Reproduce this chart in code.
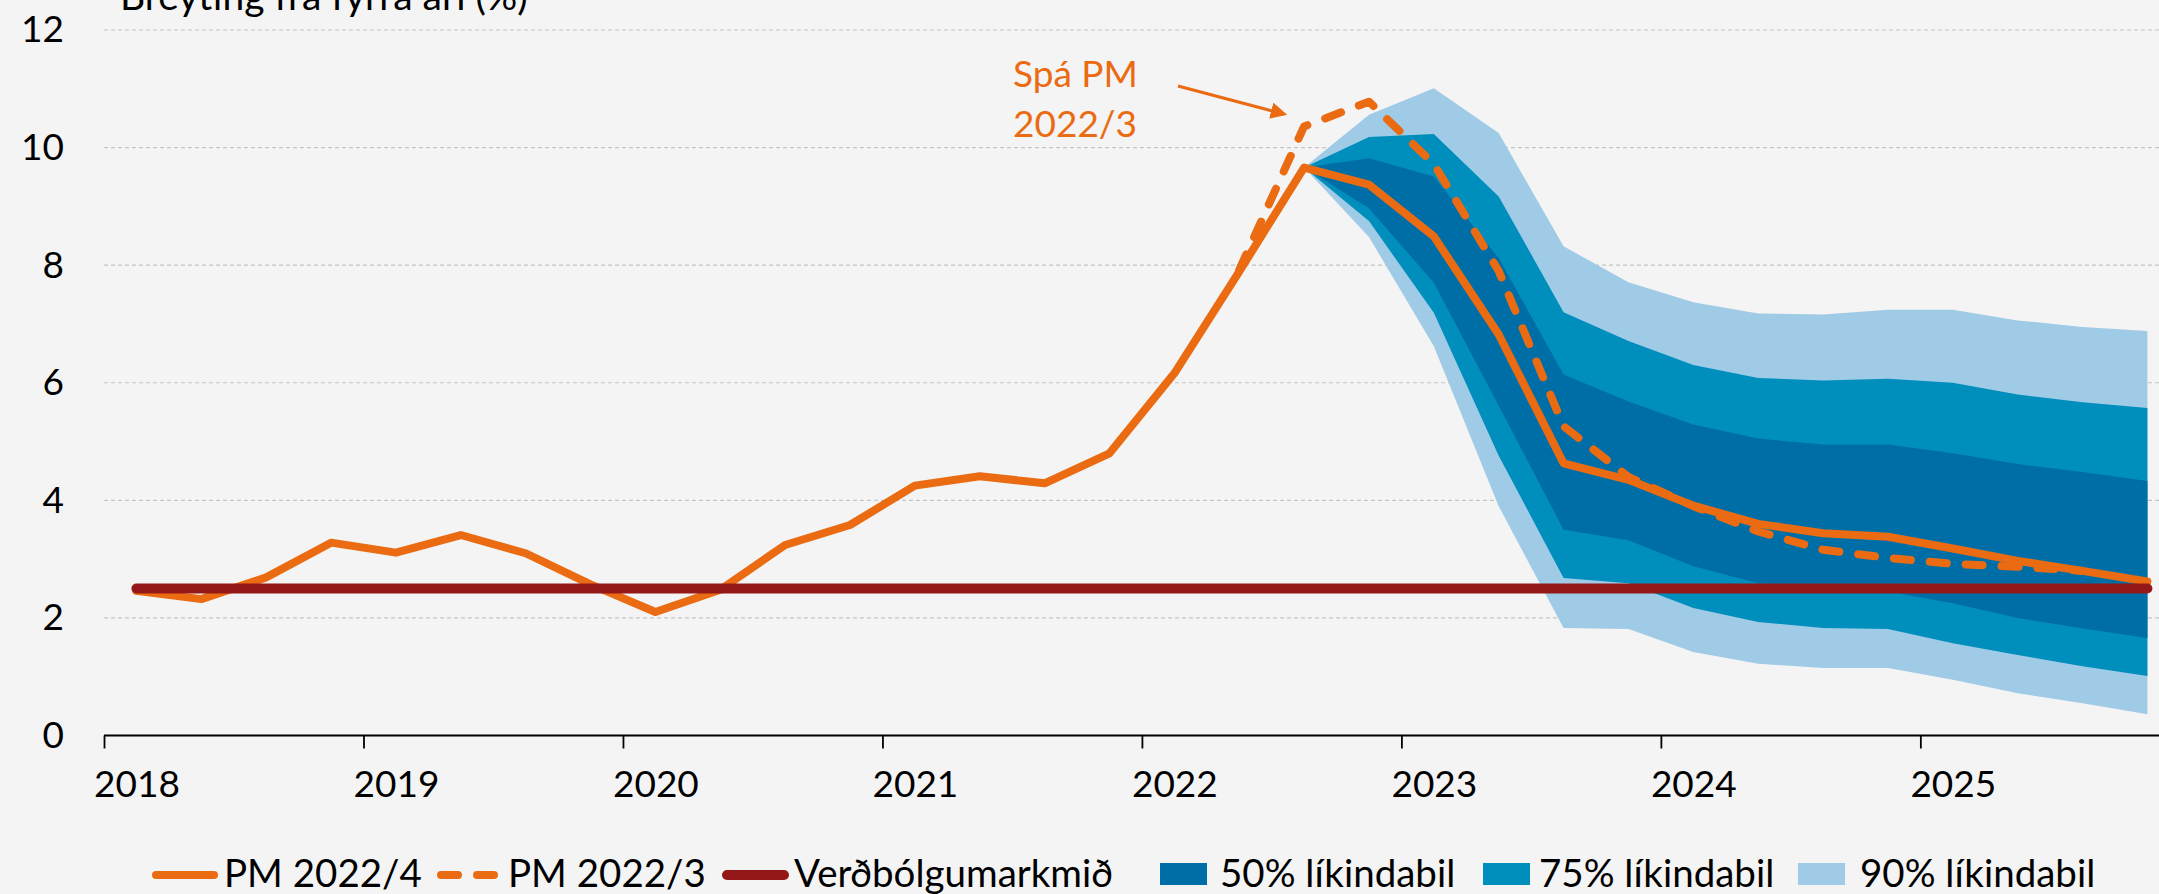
<!DOCTYPE html>
<html>
<head>
<meta charset="utf-8">
<script src="https://cdn.jsdelivr.net/npm/d3@7"></script>
<style>
  body { margin: 0; background: #f4f4f4; }
  svg { display: block; }
  text { font-family: Lato, "Open Sans", sans-serif; }
</style>
</head>
<body>
<div id="chart"></div>
<script>
"use strict";
//categories: quarters 2018Q1 - 2025Q4, labelled by year
var years = ["2018", "2019", "2020", "2021", "2022", "2023", "2024", "2025"];
var quarters = [];
years.forEach(function(y) {
  ["Q1", "Q2", "Q3", "Q4"].forEach(function(q) {
    quarters.push(y + q);
  });
});

//PM 2022/4, history and forecast
var pm2022_4 = [
  2.46, 2.32, 2.69, 3.28,
  3.11, 3.41, 3.10, 2.57,
  2.10, 2.48, 3.24, 3.58,
  4.25, 4.41, 4.29, 4.80,
  6.16, 7.89, 9.66, 9.37,
  8.49, 6.82, 4.63, 4.35,
  3.91, 3.60, 3.44, 3.38,
  3.18, 2.97, 2.80, 2.62
];

//PM 2022/3 forecast, from 2022Q2
var pm2022_3Start = "2022Q2";
var pm2022_3 = [7.92, 10.36, 10.78, 9.72, 7.90, 5.26, 4.40, 3.90, 3.47, 3.16, 3.02, 2.92, 2.87, 2.80];

//inflation target
var target = 2.5;

//probability bands, from 2022Q3
var bandStart = "2022Q3";
var lo90 = [9.66, 8.48, 6.62, 3.90, 1.83, 1.81, 1.42, 1.22, 1.15, 1.15, 0.95, 0.72, 0.55, 0.36];
var lo75 = [9.66, 8.75, 7.19, 4.76, 2.68, 2.59, 2.17, 1.93, 1.83, 1.81, 1.57, 1.37, 1.18, 1.01];
var lo50 = [9.66, 8.97, 7.70, 5.61, 3.50, 3.32, 2.88, 2.59, 2.48, 2.45, 2.25, 2.00, 1.82, 1.66];
var hi50 = [9.66, 9.82, 9.51, 8.12, 6.14, 5.68, 5.29, 5.05, 4.95, 4.95, 4.80, 4.62, 4.48, 4.33];
var hi75 = [9.66, 10.18, 10.23, 9.17, 7.20, 6.71, 6.30, 6.08, 6.04, 6.07, 6.00, 5.80, 5.67, 5.57];
var hi90 = [9.66, 10.56, 11.01, 10.25, 8.32, 7.71, 7.37, 7.18, 7.16, 7.24, 7.24, 7.06, 6.95, 6.88];

var yTicks = [0, 2, 4, 6, 8, 10, 12];

var legendLabels = ["PM 2022/4", "PM 2022/3", "Verðbólgumarkmið", "50% líkindabil", "75% líkindabil", "90% líkindabil"];

var w = 2159,
  h = 894,
  qw = 64.87,
  left = 104;

var orange = "#ea6b12",
  red = "#951819",
  blue50 = "#006ea6",
  blue75 = "#008ebd",
  blue90 = "#a0cbe6",
  fontSize = 37;

var svg = d3
  .select("#chart")
  .append("svg")
  .attr("width", w)
  .attr("height", h);

svg.append("rect").attr("width", w).attr("height", h).attr("fill", "#f4f4f4");

//x works in quarter units, each point sits in the middle of its quarter
var x = d3
  .scaleLinear()
  .domain([0, quarters.length])
  .range([left, left + quarters.length * qw]);
var y = d3
  .scaleLinear()
  .domain([0, 12])
  .range([735.5, 30]);

function qx(q) {
  return x(quarters.indexOf(q) + 0.5);
}

//gridlines
svg
  .append("g")
  .selectAll("line")
  .data(yTicks.filter(function(d) { return d > 0; }))
  .enter()
  .append("line")
  .attr("x1", left)
  .attr("x2", w)
  .attr("y1", function(d) { return y(d); })
  .attr("y2", function(d) { return y(d); })
  .attr("stroke", "#c4c4c4")
  .attr("stroke-width", 1.2)
  .attr("stroke-dasharray", "4,3");

//bands
function bandData(lo, hi) {
  var s = quarters.indexOf(bandStart);
  return lo.map(function(v, i) {
    return { q: quarters[s + i], lo: v, hi: hi[i] };
  });
}

var area = d3
  .area()
  .x(function(d) { return qx(d.q); })
  .y0(function(d) { return y(d.lo); })
  .y1(function(d) { return y(d.hi); });

var bands = [
  { lo: lo90, hi: hi90, color: blue90 },
  { lo: lo75, hi: hi75, color: blue75 },
  { lo: lo50, hi: hi50, color: blue50 }
];

svg
  .append("g")
  .selectAll("path")
  .data(bands)
  .enter()
  .append("path")
  .attr("d", function(b) { return area(bandData(b.lo, b.hi)); })
  .attr("fill", function(b) { return b.color; });

//lines
var line = d3
  .line()
  .x(function(d) { return qx(d.q); })
  .y(function(d) { return y(d.v); });

var pm4Data = pm2022_4.map(function(v, i) {
  return { q: quarters[i], v: v };
});
var pm3Data = pm2022_3.map(function(v, i) {
  return { q: quarters[quarters.indexOf(pm2022_3Start) + i], v: v };
});
var targetData = quarters.map(function(q) {
  return { q: q, v: target };
});

svg
  .append("path")
  .attr("d", line(pm3Data))
  .attr("fill", "none")
  .attr("stroke", orange)
  .attr("stroke-width", 8)
  .attr("stroke-linecap", "round")
  .attr("stroke-linejoin", "round")
  .attr("stroke-dasharray", "17,19");

svg
  .append("path")
  .attr("d", line(pm4Data))
  .attr("fill", "none")
  .attr("stroke", orange)
  .attr("stroke-width", 8)
  .attr("stroke-linecap", "round")
  .attr("stroke-linejoin", "round");

svg
  .append("path")
  .attr("d", line(targetData))
  .attr("fill", "none")
  .attr("stroke", red)
  .attr("stroke-width", 10)
  .attr("stroke-linecap", "round");

//x axis: ticks between years, labels on first quarter
var xAxis = d3
  .axisBottom(x)
  .tickValues(d3.range(0, quarters.length, 4))
  .tickFormat(function(d) { return years[d / 4]; })
  .tickSize(13)
  .tickSizeOuter(0)
  .tickPadding(22);

var gx = svg
  .append("g")
  .attr("transform", "translate(0," + y(0) + ")")
  .call(xAxis);
gx.select(".domain").attr("stroke", "#000").attr("stroke-width", 2.2).attr("d", "M" + left + ",0H" + w);
gx.selectAll(".tick line").attr("stroke", "#000").attr("stroke-width", 1.8);
gx.selectAll(".tick text")
  .attr("x", qw / 2)
  .attr("fill", "#000")
  .style("font-size", fontSize + "px")
  .style("font-family", "Lato, sans-serif");

//y axis labels only
var yAxis = d3
  .axisLeft(y)
  .tickValues(yTicks)
  .tickSize(0)
  .tickPadding(0);

var gy = svg
  .append("g")
  .attr("transform", "translate(64,0)")
  .call(yAxis);
gy.select(".domain").remove();
gy.selectAll(".tick text")
  .attr("fill", "#000")
  .style("font-size", fontSize + "px")
  .style("font-family", "Lato, sans-serif");

//axis title, cut at the top like the original
svg
  .append("text")
  .attr("x", 120)
  .attr("y", 10)
  .attr("fill", "#000")
  .style("font-size", "39px")
  .text("Breyting frá fyrra ári (%)");

//annotation for PM 2022/3
svg
  .append("defs")
  .append("marker")
  .attr("id", "arrow")
  .attr("viewBox", "0 0 10 10")
  .attr("refX", 8)
  .attr("refY", 5)
  .attr("markerWidth", 5.5)
  .attr("markerHeight", 5.5)
  .attr("orient", "auto")
  .append("path")
  .attr("d", "M0,0L10,5L0,10z")
  .attr("fill", orange);

var note = svg.append("g").attr("fill", orange).style("font-size", fontSize + "px");
note.append("text").attr("x", 1013).attr("y", 87).text("Spá PM");
note.append("text").attr("x", 1013).attr("y", 137).text("2022/3");
svg
  .append("line")
  .attr("x1", 1178)
  .attr("y1", 86)
  .attr("x2", 1284)
  .attr("y2", 114)
  .attr("stroke", orange)
  .attr("stroke-width", 3)
  .attr("marker-end", "url(#arrow)");

//legend
var legend = svg.append("g").style("font-size", "38.5px");
var ly = 875;

legend.append("line").attr("x1", 156).attr("x2", 214).attr("y1", ly).attr("y2", ly)
  .attr("stroke", orange).attr("stroke-width", 8).attr("stroke-linecap", "round");
legend.append("line").attr("x1", 441).attr("x2", 495).attr("y1", ly).attr("y2", ly)
  .attr("stroke", orange).attr("stroke-width", 8).attr("stroke-linecap", "round")
  .attr("stroke-dasharray", "17,19");
legend.append("line").attr("x1", 727).attr("x2", 784).attr("y1", ly).attr("y2", ly)
  .attr("stroke", red).attr("stroke-width", 10).attr("stroke-linecap", "round");

var boxes = [
  { x: 1160, color: blue50 },
  { x: 1483, color: blue75 },
  { x: 1798, color: blue90 }
];
legend
  .selectAll("rect")
  .data(boxes)
  .enter()
  .append("rect")
  .attr("x", function(d) { return d.x; })
  .attr("y", 863)
  .attr("width", 47)
  .attr("height", 22)
  .attr("fill", function(d) { return d.color; });

var textX = [224, 508, 794, 1220, 1539, 1860];
legend
  .selectAll("text")
  .data(legendLabels)
  .enter()
  .append("text")
  .attr("x", function(d, i) { return textX[i]; })
  .attr("y", 887)
  .attr("fill", "#000")
  .text(function(d) { return d; });
</script>
</body>
</html>
